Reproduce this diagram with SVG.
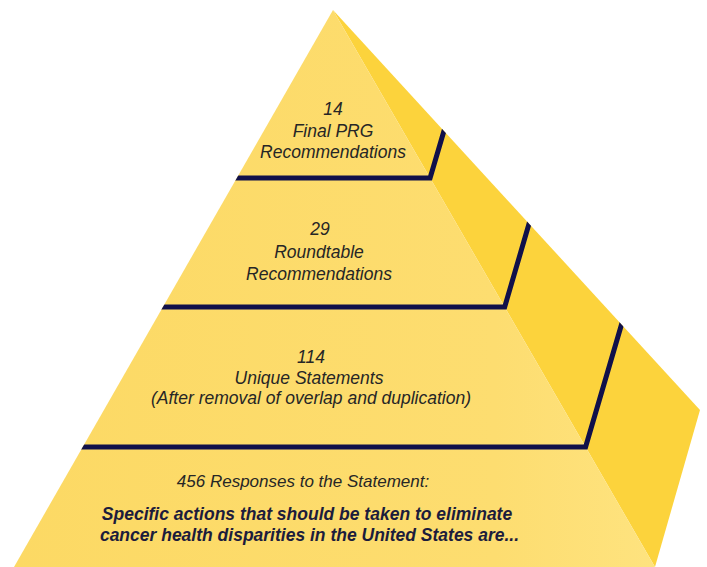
<svg xmlns="http://www.w3.org/2000/svg" width="707" height="567" viewBox="0 0 707 567">
  <style>
    .lbl { font-family: "Liberation Sans", Arial, sans-serif; font-style: italic; font-size: 17.5px; fill: #262626; text-anchor: middle; }
    .bold { font-weight: bold; fill: #1c1c3c; }
    .sep { fill: none; stroke: #10104a; stroke-width: 5; stroke-linejoin: miter; }
  </style>
  <defs>
    <linearGradient id="frontGrad" x1="0" y1="0" x2="1" y2="0">
      <stop offset="0" stop-color="#fcd964"/>
      <stop offset="0.75" stop-color="#fddd70"/>
      <stop offset="1" stop-color="#fee37f"/>
    </linearGradient>
    <clipPath id="pyr">
      <polygon points="333,10 700,410 655,567 14,567"/>
    </clipPath>
  </defs>
  <rect width="707" height="567" fill="#ffffff"/>
  <g id="pyramid">
    <polygon points="333,10 700,410 655,567" fill="#fcd33c"/>
    <polygon points="333,10 655,567 14,567" fill="url(#frontGrad)"/>
  </g>
  <g id="separators" clip-path="url(#pyr)">
    <polyline class="sep" points="200,178 430.1,178 446,124"/>
    <polyline class="sep" points="120,307 504.7,307 531,217"/>
    <polyline class="sep" points="40,447 585.6,447 624,316"/>
  </g>
  <g id="tier1">
    <text class="lbl" x="333" y="115">14</text>
    <text class="lbl" x="333" y="137">Final PRG</text>
    <text class="lbl" x="333" y="158">Recommendations</text>
  </g>
  <g id="tier2">
    <text class="lbl" x="320" y="235">29</text>
    <text class="lbl" x="319" y="258">Roundtable</text>
    <text class="lbl" x="319" y="280">Recommendations</text>
  </g>
  <g id="tier3">
    <text class="lbl" x="311" y="363">114</text>
    <text class="lbl" x="309" y="384">Unique Statements</text>
    <text class="lbl" x="311" y="404">(After removal of overlap and duplication)</text>
  </g>
  <g id="tier4">
    <text class="lbl" x="303" y="487" style="font-size:17px">456 Responses to the Statement:</text>
    <text class="lbl bold" x="307" y="520">Specific actions that should be taken to eliminate</text>
    <text class="lbl bold" x="309.5" y="541">cancer health disparities in the United States are...</text>
  </g>
</svg>
